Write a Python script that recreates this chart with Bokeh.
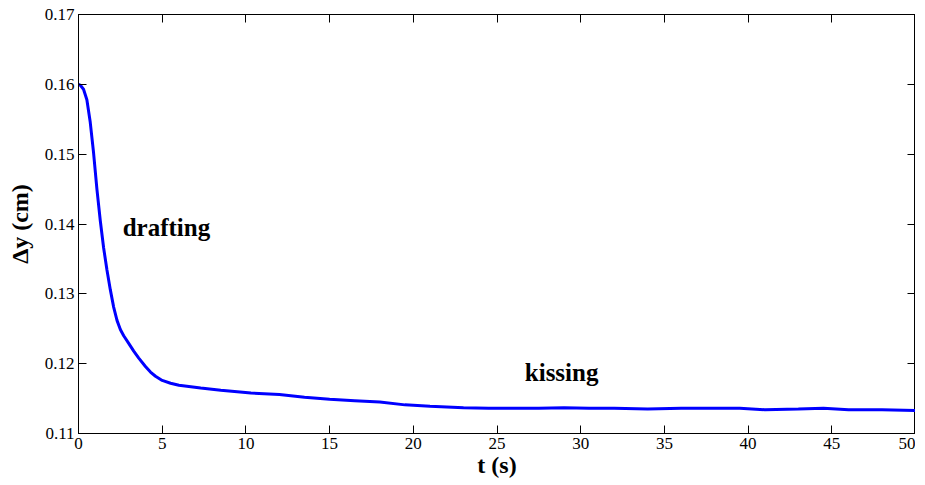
from bokeh.plotting import figure
from bokeh.models import Range1d, LinearAxis, FixedTicker, PrintfTickFormatter, CustomJSTickFormatter, Label
from bokeh.embed import file_html
from bokeh.resources import INLINE

# data
t = [0, 0.1, 0.3, 0.5, 0.7, 0.9, 1.1, 1.3, 1.5, 1.7, 1.9, 2.1, 2.3, 2.5, 2.7, 3.0,
     3.3, 3.6, 4.0, 4.3, 4.6, 5.0, 5.5, 6.0, 7.3, 8.5, 10.3, 12.0, 13.5, 15, 16.5,
     18, 19.5, 21, 23, 24.5, 26, 27.5, 29, 30.5, 32, 34, 36, 38, 39.5, 41, 43, 44.5,
     46, 48, 50]
dy = [0.1600, 0.1599, 0.1593, 0.1578, 0.1546, 0.1502, 0.1450, 0.1405, 0.1366, 0.1334,
      0.1306, 0.1281, 0.1262, 0.1249, 0.1240, 0.1229, 0.1218, 0.1208, 0.1196, 0.1188,
      0.1182, 0.1176, 0.1172, 0.1169, 0.1165, 0.1162, 0.1158, 0.1156, 0.1152, 0.1149,
      0.1147, 0.1145, 0.1141, 0.1139, 0.1137, 0.1136, 0.1136, 0.1136, 0.1137, 0.1136,
      0.1136, 0.1135, 0.1136, 0.1136, 0.1136, 0.1134, 0.1135, 0.1136, 0.1134, 0.1134,
      0.1133]
x_ticks = [0, 5, 10, 15, 20, 25, 30, 35, 40, 45, 50]
y_ticks = [0.11, 0.12, 0.13, 0.14, 0.15, 0.16, 0.17]
annotations = [("drafting", 2.64, 0.1395), ("kissing", 26.66, 0.1187)]

SERIF = "Liberation Serif"

p = figure(width=915, height=480, output_backend="svg", toolbar_location=None,
           x_range=Range1d(0, 50), y_range=Range1d(0.11, 0.17),
           min_border_left=78, min_border_right=0, min_border_top=14, min_border_bottom=40)
p.grid.visible = False
p.outline_line_color = "black"
p.outline_line_width = 1
p.background_fill_color = "white"
p.border_fill_color = "white"

p.line(t, dy, line_color="#0000FF", line_width=3)

def style(ax, ticks, show_labels):
    ax.ticker = FixedTicker(ticks=ticks)
    ax.major_tick_in = 8
    ax.major_tick_out = 0
    ax.minor_tick_line_color = None
    ax.axis_line_color = "black"
    ax.major_tick_line_color = "black"
    ax.major_label_text_font = SERIF
    ax.major_label_text_font_size = "17px"
    ax.major_label_text_color = "black"
    ax.major_label_standoff = 4
    if not show_labels:
        ax.formatter = CustomJSTickFormatter(code="return ''")
        ax.major_label_text_font_size = "0px"
        ax.major_label_standoff = 0

xa = p.xaxis[0]
style(xa, x_ticks, True)
xa.axis_label = "t (s)"
ya = p.yaxis[0]
style(ya, y_ticks, True)
ya.formatter = PrintfTickFormatter(format="%.2f")
ya.axis_label = "Δy (cm)"
for ax in (xa, ya):
    ax.axis_label_text_font = SERIF
    ax.axis_label_text_font_style = "bold"
    ax.axis_label_text_font_size = "24px"
    ax.axis_label_text_color = "black"
xa.axis_label_standoff = 0
ya.axis_label_standoff = 9

top = LinearAxis()
style(top, x_ticks, False)
p.add_layout(top, "above")
right = LinearAxis()
style(right, y_ticks, False)
p.add_layout(right, "right")

for txt, xx, yy in annotations:
    p.add_layout(Label(x=xx, y=yy, text=txt, text_font=SERIF, text_font_style="bold",
                       text_font_size="25px", text_color="black",
                       text_align="left", text_baseline="alphabetic"))

open("out.html", "w").write(file_html(p, INLINE))
